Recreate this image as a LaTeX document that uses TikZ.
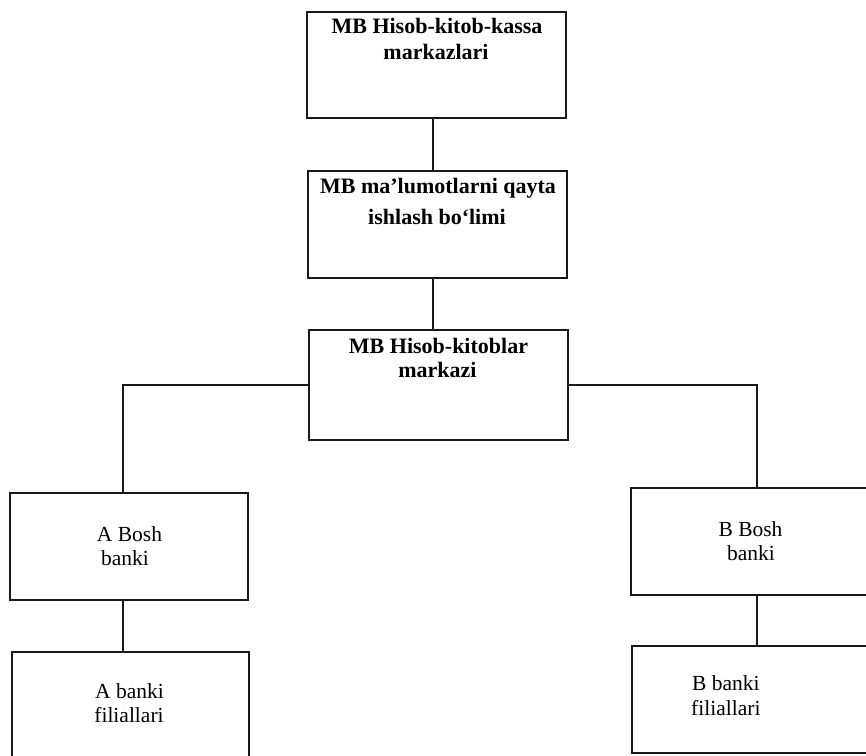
\documentclass[tikz,border=0pt]{standalone}
\usepackage{fontspec}
\setmainfont{Liberation Serif}
\begin{document}
\begin{tikzpicture}[x=1pt,y=-1pt,
  box/.style={draw=black!90, line width=1.1pt, rectangle, inner sep=0pt},
  conn/.style={draw=black!90, line width=1.1pt},
  hd/.style={anchor=base, inner sep=0pt, font=\fontsize{22}{26}\selectfont\bfseries},
  tx/.style={anchor=base, inner sep=0pt, font=\fontsize{21.5}{24}\selectfont}]
\useasboundingbox (0,0) rectangle (866,755);
\fill[white] (0,0) rectangle (866,755);
\clip (0,0) rectangle (866,755);
% boxes
\node[box, minimum width=259pt, minimum height=106pt] (b1) at (436.5,65) {};
\node[box, minimum width=259pt, minimum height=107pt] (b2) at (437.5,224.5) {};
\node[box, minimum width=259pt, minimum height=110pt] (b3) at (438.5,385) {};
\node[box, minimum width=238pt, minimum height=107pt] (ab) at (129,546.5) {};
\node[box, minimum width=237pt, minimum height=106pt] (af) at (130.5,705) {};
\node[box, minimum width=238pt, minimum height=107pt] (bb) at (750,541.5) {};
\node[box, minimum width=238pt, minimum height=107pt] (bf) at (751,699.5) {};
% texts
\node[hd] (t1a) at (437,33) {MB Hisob-kitob-kassa};
\node[hd] (t1b) at (436,59) {markazlari};
\node[hd] (t2a) at (438,193) {MB ma’lumotlarni qayta};
\node[hd] (t2b) at (437,224) {ishlash bo‘limi};
\node[hd] (t3a) at (438.5,353) {MB Hisob-kitoblar};
\node[hd] (t3b) at (437.5,377) {markazi};
\node[tx] (tAa) at (129.5,541) {A Bosh};
\node[tx] (tAb) at (125,565) {banki};
\node[tx] (tAc) at (129.5,698) {A banki};
\node[tx] (tAd) at (129,722) {filiallari};
\node[tx] (tBa) at (750.5,536) {B Bosh};
\node[tx] (tBb) at (751,560) {banki};
\node[tx, anchor=base west] (tBc) at (692,690) {B banki};
\node[tx, anchor=base west] (tBd) at (691,715) {filiallari};
% connector positions
\coordinate (k1) at (433,0);
\coordinate (kA) at (123,0);
\coordinate (kB) at (757,0);
% connectors
\draw[conn] (k1 |- b1.south) -- (k1 |- b2.north);
\draw[conn] (k1 |- b2.south) -- (k1 |- b3.north);
\draw[conn] (b3.west) -| (kA |- ab.north);
\draw[conn] (b3.east) -| (kB |- bb.north);
\draw[conn] (kA |- ab.south) -- (kA |- af.north);
\draw[conn] (kB |- bb.south) -- (kB |- bf.north);
\end{tikzpicture}
\end{document}
